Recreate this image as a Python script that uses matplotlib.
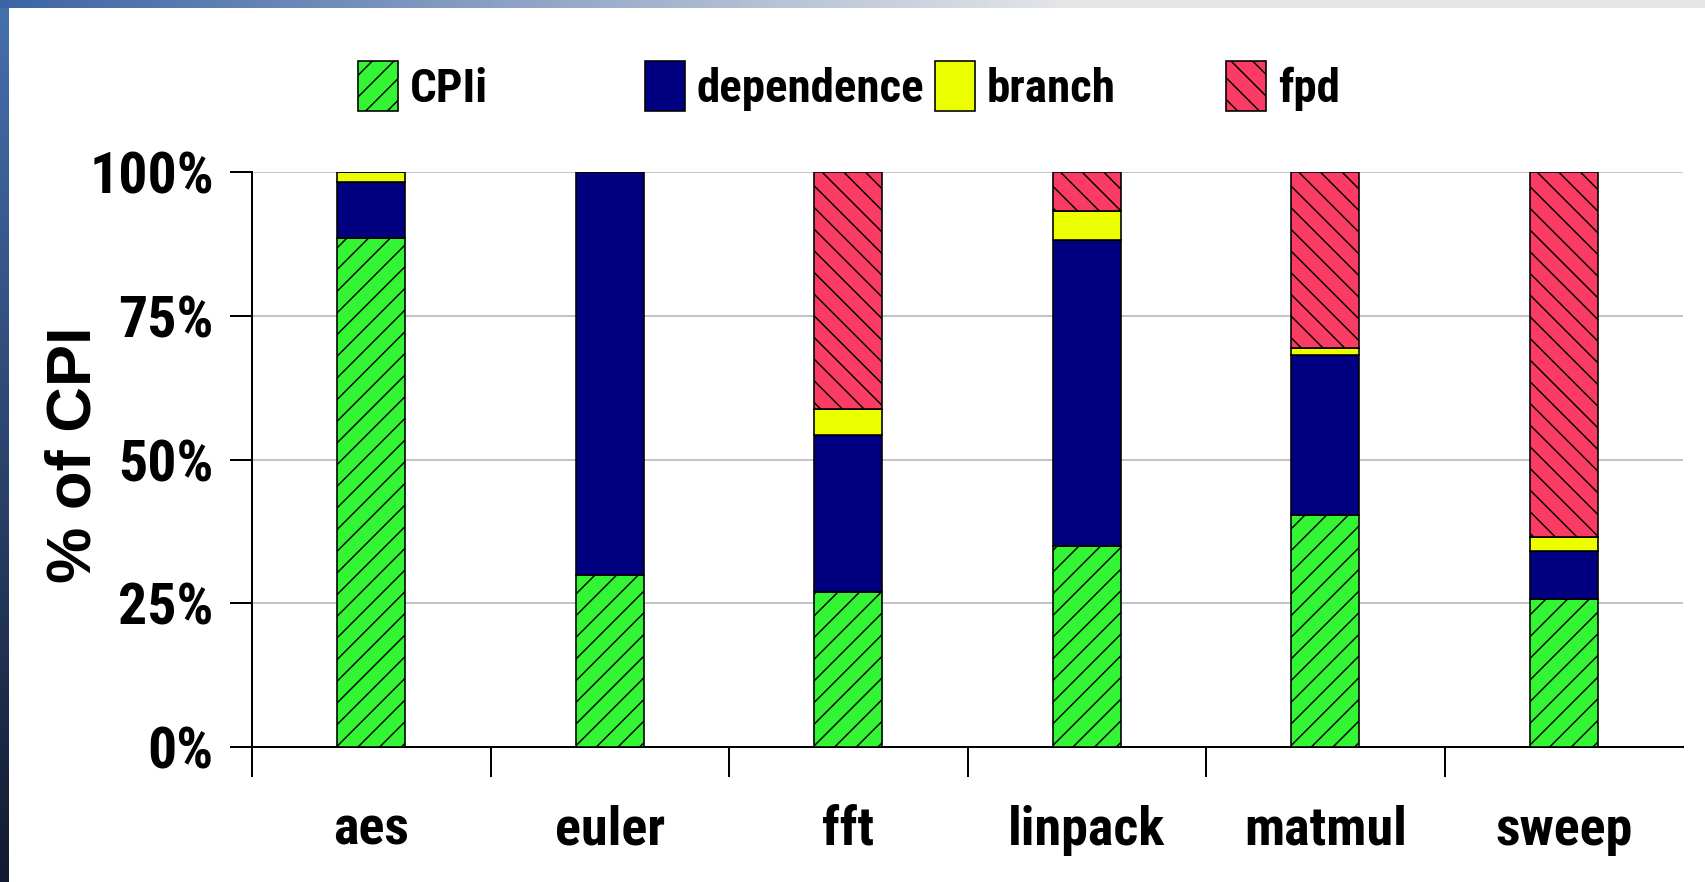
import numpy as np
import matplotlib
matplotlib.use("Agg")
import matplotlib.pyplot as plt
from matplotlib.patches import Patch

benchmarks = ["aes", "euler", "fft", "linpack", "matmul", "sweep"]
cpii = [88.6, 29.9, 27.0, 35.0, 40.3, 25.7]
dependence = [9.7, 70.1, 27.3, 53.1, 27.8, 8.4]
branch = [1.7, 0.0, 4.4, 5.1, 1.3, 2.5]
fpd = [0.0, 0.0, 41.3, 6.8, 30.6, 63.4]

series_names = ["CPIi", "dependence", "branch", "fpd"]
series_colors = ["#33f533", "#000080", "#ebff00", "#fa3c64"]
series_hatch = ["//", None, None, "\\\\"]
y_ticks = [0, 25, 50, 75, 100]
y_ticklabels = ["0%", "25%", "50%", "75%", "100%"]

# narrow grotesque first, plain Liberation Sans if it is missing
plt.rcParams["font.family"] = ["Roboto Condensed", "Liberation Sans", "DejaVu Sans"]
plt.rcParams["font.weight"] = "bold"
plt.rcParams["hatch.linewidth"] = 0.8

DPI = 130
W, H = 1705, 882
fig = plt.figure(figsize=(W / DPI, H / DPI), dpi=DPI)
fig.patch.set_facecolor("white")

# slide frame: blue strip on the left, fading bar along the top
left_strip = fig.add_axes([0, 0, 9 / W, 1])
grad_v = np.linspace(0, 1, 256)[:, None]
top_col = np.array([70, 112, 175]) / 255
bot_col = np.array([18, 26, 48]) / 255
img_v = top_col[None, None, :] * (1 - grad_v[:, :, None]) + bot_col[None, None, :] * grad_v[:, :, None]
left_strip.imshow(img_v, aspect="auto", extent=[0, 1, 0, 1])
left_strip.axis("off")

top_strip = fig.add_axes([0, 1 - 8 / H, 1, 8 / H])
grad_h = np.linspace(0, 1, 256)[None, :]
l_col = np.array([60, 100, 165]) / 255
r_col = np.array([228, 230, 232]) / 255
mix = np.clip(grad_h * 1.6, 0, 1)
img_h = l_col[None, None, :] * (1 - mix[:, :, None]) + r_col[None, None, :] * mix[:, :, None]
top_strip.imshow(img_h, aspect="auto", extent=[0, 1, 0, 1])
top_strip.axis("off")

ax = fig.add_axes([252 / W, 1 - 747 / H, (1683 - 252) / W, (747 - 172) / H])

x = np.arange(len(benchmarks)) + 0.5
bar_w = 0.285
bottom = np.zeros(len(benchmarks))
for name, vals, col, hat in zip(series_names, [cpii, dependence, branch, fpd],
                                series_colors, series_hatch):
    vals = np.array(vals)
    ax.bar(x, vals, bar_w, bottom=bottom, color=col, edgecolor="black",
           linewidth=0.9, hatch=hat, label=name, zorder=3)
    bottom += vals

ax.set_xlim(0, len(benchmarks))
ax.set_ylim(0, 100)
ax.set_yticks(y_ticks)
ax.set_yticklabels(y_ticklabels)
ax.set_xticks(x)
ax.set_xticklabels(benchmarks)
ax.set_xticks(np.arange(len(benchmarks)), minor=True)

ax.tick_params(axis="x", which="major", length=0, pad=32, labelsize=30)
ax.tick_params(axis="x", which="minor", length=16.6, width=1.1, direction="out")
ax.tick_params(axis="y", which="major", length=12.2, width=1.1, direction="out",
               pad=9, labelsize=32)

ax.yaxis.grid(True, color="#c4c4c4", linewidth=1.1)
ax.set_axisbelow(True)
for side in ["top", "right"]:
    ax.spines[side].set_visible(False)
for side in ["left", "bottom"]:
    ax.spines[side].set_linewidth(1.1)

ax.set_ylabel("% of CPI", fontsize=35, va="center",
              family=["Liberation Sans", "DejaVu Sans"], fontweight="bold")
ax.yaxis.set_label_coords(-0.1245, 0.509)

# legend entries spaced evenly across the top
legend_x = [358, 645, 935, 1226]
for name, col, hat, lx in zip(series_names, series_colors, series_hatch, legend_x):
    handle = Patch(facecolor=col, edgecolor="black", hatch=hat, linewidth=0.9)
    fig.legend([handle], [name], loc="center left",
               bbox_to_anchor=(lx / W, 1 - 86 / H), frameon=False,
               fontsize=26, borderpad=0, borderaxespad=0,
               handlelength=0.85, handleheight=1.25, handletextpad=0.25)

fig.savefig("out.png", dpi=DPI)
